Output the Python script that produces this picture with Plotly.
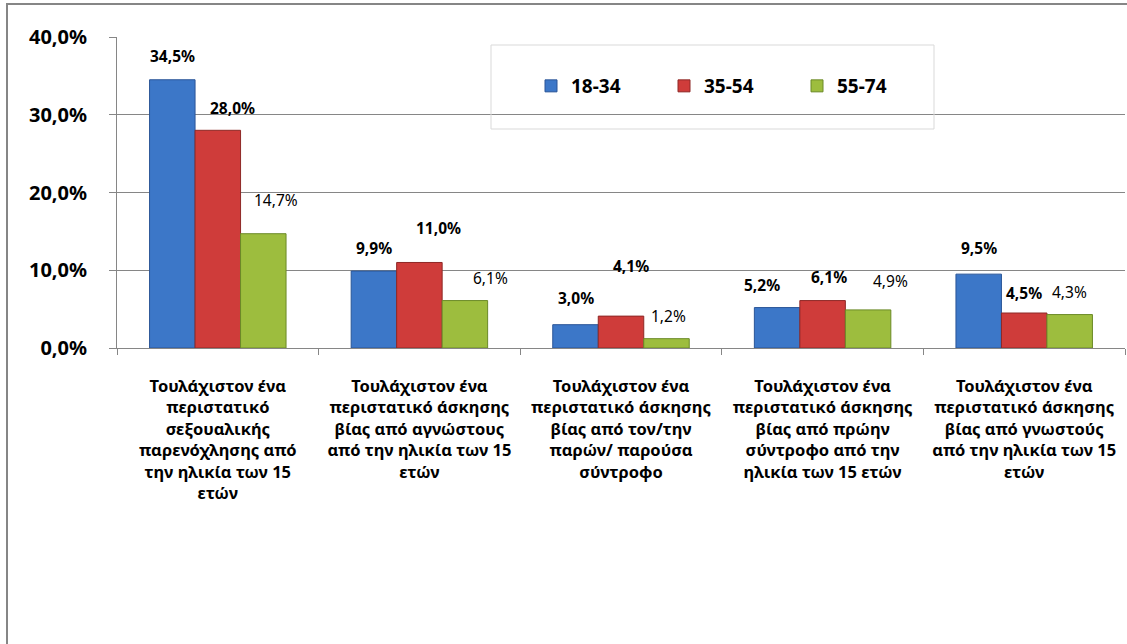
import plotly.graph_objects as go

categories = [
    "Τουλάχιστον ένα<br>περιστατικό<br>σεξουαλικής<br>παρενόχλησης από<br>την ηλικία των 15<br>ετών",
    "Τουλάχιστον ένα<br>περιστατικό άσκησης<br>βίας από αγνώστους<br>από την ηλικία των 15<br>ετών",
    "Τουλάχιστον ένα<br>περιστατικό άσκησης<br>βίας από τον/την<br>παρών/ παρούσα<br>σύντροφο",
    "Τουλάχιστον ένα<br>περιστατικό άσκησης<br>βίας από πρώην<br>σύντροφο από την<br>ηλικία των 15 ετών",
    "Τουλάχιστον ένα<br>περιστατικό άσκησης<br>βίας από γνωστούς<br>από την ηλικία των 15<br>ετών",
]
series_names = ["18-34", "35-54", "55-74"]
values_18_34 = [34.5, 9.9, 3.0, 5.2, 9.5]
values_35_54 = [28.0, 11.0, 4.1, 6.1, 4.5]
values_55_74 = [14.7, 6.1, 1.2, 4.9, 4.3]
y_ticks = [0, 10, 20, 30, 40]
y_tick_labels = ["0,0%", "10,0%", "20,0%", "30,0%", "40,0%"]

all_values = [values_18_34, values_35_54, values_55_74]
colors = ["#3C77C8", "#CF3C3A", "#9DBD3E"]
edge_colors = ["#2A5597", "#8E2826", "#6B8A27"]
label_bold = [True, True, False]

# manual label nudges (px) as placed in the original chart: (dx, dy)
label_nudges = [
    [(0, 24), (0, 23), (0, 27), (-15, 23), (0, 26)],
    [(15, 22), (19, 34), (10, 50), (6, 24), (0, 20)],
    [(13, 34), (26, 23), (2, 23), (22, 29), (0, 23)],
]

FONT = "Noto Sans"
W, H = 1127, 644
ML, MR, MT, MB = 117, 2, 37, 296
plot_w = W - ML - MR
plot_h = H - MT - MB
cat_w = plot_w / len(categories)
bargap = 0.323
bar_w = cat_w * (1 - bargap) / 3

fig = go.Figure()
for i, name in enumerate(series_names):
    fig.add_trace(go.Bar(
        name=name, x=categories, y=all_values[i],
        marker=dict(color=colors[i], line=dict(color=edge_colors[i], width=1)),
    ))

annotations = []
for i in range(3):
    for j, v in enumerate(all_values[i]):
        dx, dy = label_nudges[i][j]
        txt = f"{v:.1f}%".replace(".", ",")
        if label_bold[i]:
            txt = f"<b>{txt}</b>"
        annotations.append(dict(
            x=categories[j], y=v, xref="x", yref="y", text=txt, showarrow=False,
            xshift=(i - 1) * bar_w + dx, yshift=dy,
            font=dict(family=FONT, size=15.5, color="#000000"),
        ))

def px_to_paper_x(px):
    return (px - ML) / plot_w

def px_to_paper_y(py):
    return (H - MB - py) / plot_h

border_path = "M {x0},{y0} L {x0},{y1} L {x1},{y1}".format(
    x0=px_to_paper_x(7), y0=px_to_paper_y(650), y1=px_to_paper_y(4), x1=px_to_paper_x(1135))

shapes = [
    dict(type="path", xref="paper", yref="paper", path=border_path,
         line=dict(color="#868686", width=2)),
    dict(type="rect", xref="paper", yref="paper", x0=px_to_paper_x(491), x1=px_to_paper_x(934),
         y0=px_to_paper_y(129), y1=px_to_paper_y(45), line=dict(color="#D9D9D9", width=1),
         fillcolor="rgba(0,0,0,0)", layer="above"),
]

fig.update_layout(
    width=W, height=H,
    margin=dict(l=ML, r=MR, t=MT, b=MB, autoexpand=False),
    paper_bgcolor="white", plot_bgcolor="white",
    barmode="group", bargap=bargap, bargroupgap=0,
    separators=",.",
    font=dict(family=FONT, color="#000000"),
    showlegend=True,
    legend=dict(
        orientation="h", x=px_to_paper_x(531), y=px_to_paper_y(86),
        xanchor="left", yanchor="middle", bgcolor="rgba(0,0,0,0)",
        font=dict(family=FONT, size=19, color="#000000", weight="bold"),
        entrywidth=88, entrywidthmode="pixels", itemwidth=30,
        traceorder="normal",
    ),
    annotations=annotations,
    shapes=shapes,
    xaxis=dict(
        type="category", showgrid=False, showline=True, linecolor="#868686", linewidth=1,
        ticks="outside", tickson="boundaries", ticklen=6, tickcolor="#868686",
        tickfont=dict(family=FONT, size=16.5, color="#000000", weight="bold"),
        tickangle=0, ticklabelstandoff=23,
        automargin=False,
    ),
    yaxis=dict(
        range=[0, 40], tickvals=y_ticks, ticktext=y_tick_labels,
        showgrid=True, gridcolor="#868686", gridwidth=1,
        showline=True, linecolor="#868686", linewidth=1,
        ticks="outside", ticklen=7, tickcolor="#868686",
        tickfont=dict(family=FONT, size=20, color="#000000", weight="bold"),
        ticklabelstandoff=18, zeroline=False, automargin=False,
    ),
)

fig.write_html(
    "out.html",
    config={"displayModeBar": False},
    post_script=(
        "var st=document.createElement('style');"
        "st.textContent='html,body{margin:0;padding:0;overflow:hidden;scrollbar-width:none;}"
        "::-webkit-scrollbar{display:none;width:0;height:0;}';"
        "document.head.appendChild(st);window.scrollTo(0,0);"
    ),
)
